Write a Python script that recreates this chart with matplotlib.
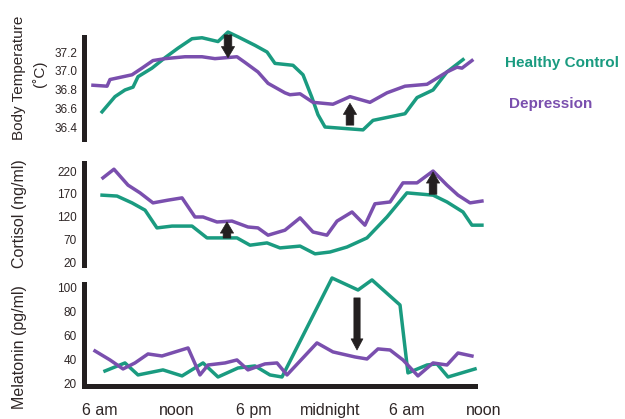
import matplotlib
matplotlib.use("Agg")
import matplotlib.pyplot as plt

plt.rcParams['font.family'] = ['Liberation Sans', 'DejaVu Sans']

# colores
verde = '#1a9b80'
morado = '#7a4fae'
negro = '#231f20'

# eje x en horas desde las 6 am
horas_ticks = [0, 6, 12, 18, 24, 30]
etiquetas_x = ['6 am', 'noon', '6 pm', 'midnight', '6 am', 'noon']

# temperatura corporal (C)
temp_sano_h = [0.16, 1.17, 1.95, 2.58, 2.97, 4.06, 5.08, 6.09, 7.19, 7.97, 9.22, 10.0, 10.78,
               12.11, 13.05, 13.67, 15.08, 15.86, 16.56, 17.03, 17.58, 20.55, 21.33, 23.83,
               24.77, 26.02, 27.11, 28.36]
temp_sano = [36.57, 36.73, 36.80, 36.83, 36.94, 37.03, 37.14, 37.24, 37.34, 37.35, 37.31, 37.41,
             37.36, 37.27, 37.20, 37.08, 37.06, 36.96, 36.72, 36.54, 36.41, 36.38, 36.48, 36.55,
             36.72, 36.80, 36.99, 37.12]
temp_dep_h = [-0.55, 0.55, 0.78, 2.5, 3.28, 4.14, 5.08, 6.64, 7.97, 8.98, 10.7, 11.33, 12.34,
              13.13, 14.45, 14.84, 15.63, 16.64, 18.2, 19.53, 21.09, 22.42, 23.83, 25.55,
              27.11, 27.89, 28.28, 29.06]
temp_dep = [36.85, 36.84, 36.91, 36.96, 37.03, 37.11, 37.13, 37.15, 37.15, 37.13, 37.15, 37.09,
            36.99, 36.87, 36.77, 36.75, 36.76, 36.67, 36.65, 36.73, 36.67, 36.77, 36.84, 36.86,
            36.99, 37.04, 37.03, 37.11]

# cortisol (ng/ml)
cort_sano_h = [0.16, 1.33, 2.5, 3.52, 4.45, 5.63, 7.19, 8.36, 9.53, 10.7, 11.72, 13.05, 14.06,
               15.63, 16.8, 17.97, 19.3, 20.86, 22.42, 23.98, 26.02, 27.11, 28.36, 29.06, 29.84]
cort_sano = [167, 165, 150, 134, 95, 99, 99, 73, 73, 73, 57, 62, 51, 55, 38, 42, 53, 73, 119,
             172, 167, 152, 130, 101, 101]
cort_dep_h = [0.23, 1.09, 2.19, 3.13, 4.14, 5.31, 6.41, 7.42, 8.05, 9.14, 10.31, 11.56, 12.34,
              13.13, 14.45, 15.63, 16.64, 17.73, 18.52, 19.69, 20.7, 21.48, 22.66, 23.67,
              24.77, 26.02, 27.11, 27.97, 28.91, 29.84]
cort_dep = [205, 224, 189, 172, 150, 156, 161, 119, 119, 108, 110, 97, 95, 79, 90, 117, 86, 79,
            110, 130, 101, 148, 152, 194, 194, 220, 189, 167, 150, 154]

# melatonina (pg/ml)
mel_sano_h = [0.39, 1.95, 2.97, 4.92, 6.41, 8.05, 9.22, 10.78, 12.11, 13.28, 14.22, 18.13,
              20.16, 21.25, 23.44, 24.06, 25.55, 26.33, 27.19, 29.3]
mel_sano = [30.8, 37.5, 27.5, 31.7, 26.7, 37.5, 25.8, 33.3, 35, 27.5, 25.8, 108.3, 98.3, 106.7,
            85.8, 29.2, 35.8, 36.7, 25.8, 32.5]
mel_dep_h = [-0.39, 0.78, 1.8, 2.73, 3.75, 4.84, 6.88, 7.81, 8.44, 9.77, 10.7, 11.56, 12.89,
             13.83, 14.61, 16.95, 18.2, 19.92, 20.86, 21.72, 22.66, 23.67, 24.84, 26.02,
             27.11, 27.97, 29.06]
mel_dep = [47.5, 40, 32.5, 37.5, 45, 43.3, 50, 27.5, 35.8, 37.5, 40, 31.7, 36.7, 37.5, 27.5,
           54.2, 46.7, 42.5, 40.8, 49.2, 48.3, 40, 26.7, 37.5, 35.8, 45.8, 43.3]

fig = plt.figure(figsize=(6.25, 4.19), dpi=100)

ax1 = fig.add_axes([0.1344, 0.6683, 0.6496, 0.2434])
ax2 = fig.add_axes([0.1344, 0.3675, 0.6496, 0.2434])
ax3 = fig.add_axes([0.1344, 0.0788, 0.6496, 0.2434])

ax1.plot(temp_sano_h, temp_sano, color=verde, lw=2.5, clip_on=False)
ax1.plot(temp_dep_h, temp_dep, color=morado, lw=2.5, clip_on=False)
ax1.set_ylim(36.284, 37.358)
ax1.set_yticks([36.4, 36.6, 36.8, 37.0, 37.2])
ax1.set_yticklabels(['36.4', '36.6', '36.8', '37.0', '37.2'])

ax2.plot(cort_sano_h, cort_sano, color=verde, lw=2.5, clip_on=False)
ax2.plot(cort_dep_h, cort_dep, color=morado, lw=2.5, clip_on=False)
ax2.set_ylim(13.4, 237.6)
ax2.set_yticks([20, 70, 120, 170, 220])

ax3.plot(mel_sano_h, mel_sano, color=verde, lw=2.5, clip_on=False)
ax3.plot(mel_dep_h, mel_dep, color=morado, lw=2.5, clip_on=False)
ax3.set_ylim(18.3, 103.3)
ax3.set_yticks([20, 40, 60, 80, 100])

for ax in (ax1, ax2, ax3):
    ax.set_xlim(-1.25, 30.47)
    for lado in ('top', 'right', 'bottom'):
        ax.spines[lado].set_visible(False)
    ax.spines['left'].set_linewidth(3.6)
    ax.spines['left'].set_color(negro)
    ax.tick_params(axis='y', length=0, pad=5, labelsize=8.5, labelcolor='#2e2626')
    ax.set_xticks([])
    ax.patch.set_visible(False)

# eje x solo en el panel de abajo
ax3.spines['bottom'].set_visible(True)
ax3.spines['bottom'].set_linewidth(3.6)
ax3.spines['bottom'].set_color(negro)
ax3.spines['bottom'].set_bounds(-1.25, 29.3)
ax3.set_xticks(horas_ticks)
ax3.set_xticklabels(etiquetas_x)
ax3.tick_params(axis='x', length=0, pad=12, labelsize=11.5, labelcolor='#2e2626')


def flecha(ax, x, y0, y1, cabeza=0.95, cola=0.55):
    ax.annotate('', xy=(x, y1), xytext=(x, y0),
                arrowprops=dict(arrowstyle=f'simple,head_width={cabeza},head_length=0.8,tail_width={cola}',
                                fc=negro, ec=negro, lw=0.5, shrinkA=0, shrinkB=0,
                                mutation_scale=10), annotation_clip=False)


flecha(ax1, 10.0, 37.38, 37.14)
flecha(ax1, 19.53, 36.43, 36.66)
flecha(ax2, 9.92, 72.7, 108)
flecha(ax2, 26.02, 169, 218)
flecha(ax3, 20.08, 91.7, 48.3, cabeza=0.85, cola=0.45)

# etiquetas de los ejes y
fig.text(19 / 625, 1 - 78 / 419, 'Body Temperature', rotation=90, ha='center', va='center',
         fontsize=11, color='#2e2626')
fig.text(40 / 625, 1 - 74 / 419, '(˚C)', rotation=90, ha='center', va='center',
         fontsize=11, color='#2e2626')
fig.text(20 / 625, 1 - 214 / 419, 'Cortisol (ng/ml)', rotation=90, ha='center', va='center',
         fontsize=11.5, color='#2e2626')
fig.text(20 / 625, 1 - 347 / 419, 'Melatonin (pg/ml)', rotation=90, ha='center', va='center',
         fontsize=11.5, color='#2e2626')

# leyenda como texto
fig.text(505 / 625, 1 - 63 / 419, 'Healthy Control', color=verde, fontsize=11,
         fontweight='bold', ha='left', va='center')
fig.text(509 / 625, 1 - 104 / 419, 'Depression', color=morado, fontsize=11,
         fontweight='bold', ha='left', va='center')

fig.savefig('out.png', dpi=100)
